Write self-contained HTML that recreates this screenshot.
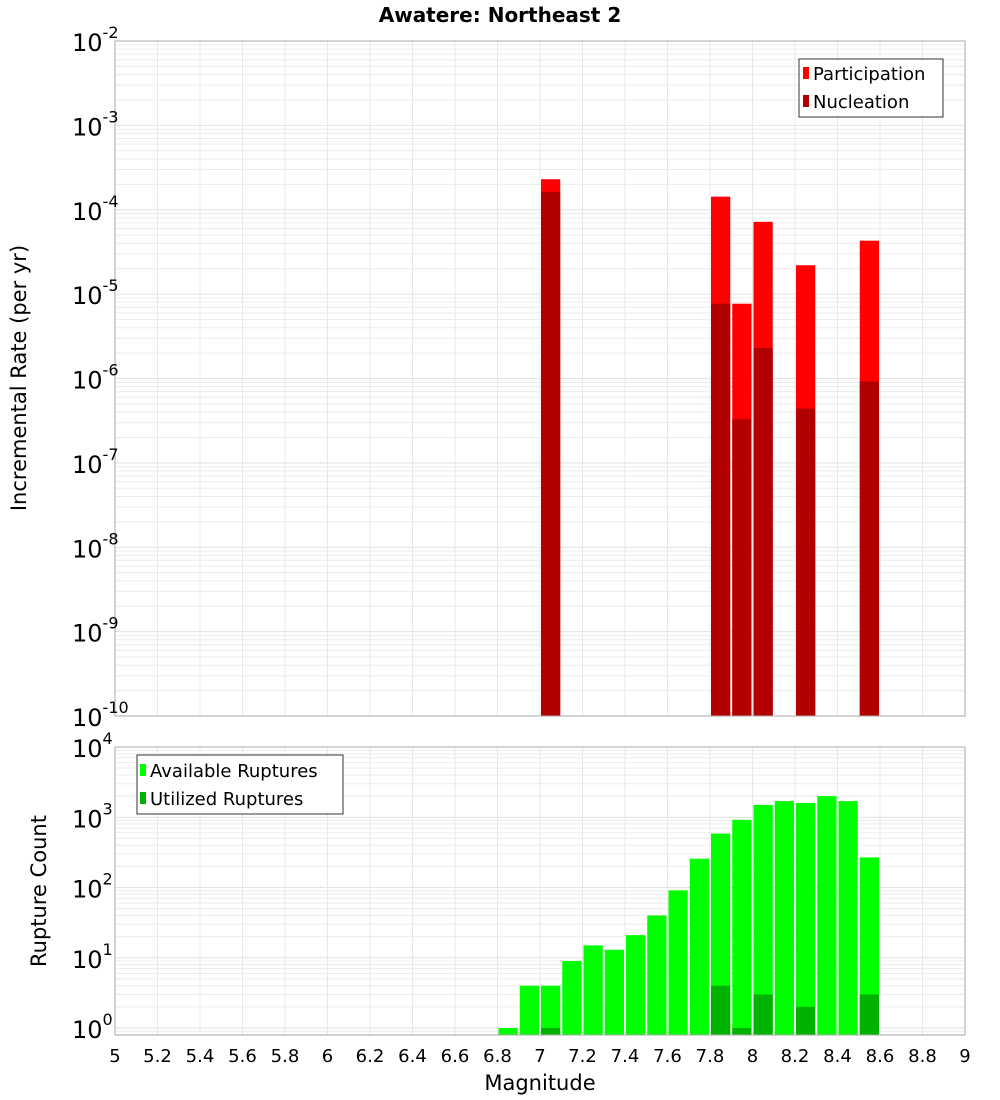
<!DOCTYPE html>
<html><head><meta charset="utf-8"><style>
body{margin:0;background:#fff;}
svg{display:block;font-family:"DejaVu Sans","Liberation Sans",sans-serif;}
</style></head><body>
<svg id="c" width="1000" height="1100"></svg>
<script>
const binCenters=[7.05,7.85,7.95,8.05,8.25,8.55];
const participation=[2.3e-4,1.43e-4,7.7e-6,7.2e-5,2.2e-5,4.3e-5];
const nucleation=[1.63e-4,7.7e-6,3.3e-7,2.3e-6,4.4e-7,9.2e-7];
const countCenters=[6.85,6.95,7.05,7.15,7.25,7.35,7.45,7.55,7.65,7.75,7.85,7.95,8.05,8.15,8.25,8.35,8.45,8.55];
const available=[1,4,4,9,15,13,21,40,91,257,585,920,1500,1700,1600,2000,1700,268];
const utilCenters=[7.05,7.85,7.95,8.05,8.25,8.55];
const utilized=[1,4,1,3,2,3];
const xTicks=[5,5.2,5.4,5.6,5.8,6,6.2,6.4,6.6,6.8,7,7.2,7.4,7.6,7.8,8,8.2,8.4,8.6,8.8,9];
const topExps=[-2,-3,-4,-5,-6,-7,-8,-9,-10];
const botExps=[4,3,2,1,0];

const NS="http://www.w3.org/2000/svg";
const svg=document.getElementById('c');
function mk(tag,attrs,parent){const e=document.createElementNS(NS,tag);for(const k in attrs)e.setAttribute(k,attrs[k]);(parent||svg).appendChild(e);return e;}
const X0=115,X1=965;
const xs=v=>X0+(v-5)/4*(X1-X0);
const T0=41,T1=716;
const yTop=v=>T0+(-2-Math.log10(v))/8*(T1-T0);
const B0=747,B1=1035,B4=747,Bz=1028;
const yBot=v=>Bz-Math.log10(v)*(Bz-B4)/4;

function grid(y0,y1,lo,hi,yf){
  for(let e=lo;e<hi;e++)for(let m=1;m<10;m++){const y=yf(m*Math.pow(10,e));if(y<y0-0.5||y>y1+0.5)continue;
    const l=mk('line',{x1:X0,x2:X1,y1:y,y2:y,stroke:m==1?'#e2e2e2':'#ececec','stroke-width':1});
    
    }
  xTicks.forEach(t=>{const x=xs(t);const l=mk('line',{x1:x,x2:x,y1:y0,y2:y1,stroke:'#e8e8e8','stroke-width':1});
    
    });
}
grid(T0,T1,-10,-1,yTop);
grid(B0,B1,-1,4,yBot);

const bw=xs(5.1)-xs(5)-2;
function bar(c,v,yf,base,color,name){const x=xs(c)-bw/2;const y=yf(v);const r=mk('rect',{x:x,y:y,width:bw,height:Math.max(0,base-y),fill:color});
  
  }
binCenters.forEach((c,i)=>bar(c,participation[i],yTop,T1,'#ff0000','participation-bar'));
binCenters.forEach((c,i)=>bar(c,nucleation[i],yTop,T1,'#b20000','nucleation-bar'));
countCenters.forEach((c,i)=>bar(c,available[i],yBot,B1,'#00ff00','available-bar'));
utilCenters.forEach((c,i)=>bar(c,utilized[i],yBot,B1,'#00b200','utilized-bar'));

mk('rect',{x:X0,y:T0,width:X1-X0,height:T1-T0,fill:'none',stroke:'#aaa',});
mk('rect',{x:X0,y:B0,width:X1-X0,height:B1-B0,fill:'none',stroke:'#aaa',});

function powLabel(e,y,name){const t=mk('text',{x:72,y:y+10,'font-size':24,fill:'#000'});t.textContent='10';
  const s=mk('tspan',{dy:-13,'font-size':16});s.textContent=String(e);t.appendChild(s);
  
  }
topExps.forEach(e=>powLabel(e,yTop(Math.pow(10,e)),'y-tick-label'));
botExps.forEach(e=>powLabel(e,yBot(Math.pow(10,e)),'y2-tick-label'));
xTicks.forEach(t=>{const tx=mk('text',{x:xs(t),y:1062,'font-size':18,'text-anchor':'middle',fill:'#000'});tx.textContent=String(t);
  
  });

function txt(s,attrs,name){const t=mk('text',attrs);t.textContent=s;return t;}
txt('Awatere: Northeast 2',{x:500,y:22,'font-size':20,'font-weight':'bold','text-anchor':'middle'},'chart-title');
txt('Magnitude',{x:540,y:1090,'font-size':21,'text-anchor':'middle'},'x-axis-title');
txt('Incremental Rate (per yr)',{x:0,y:0,'font-size':21,'text-anchor':'middle',transform:'translate(26,378) rotate(-90)'},'y-axis-title');
txt('Rupture Count',{x:0,y:0,'font-size':21,'text-anchor':'middle',transform:'translate(46,891) rotate(-90)'},'y2-axis-title');

const lg1=mk('g',{});
mk('rect',{x:799,y:59,width:144,height:58,fill:'#fff',stroke:'#333'},lg1);
mk('rect',{x:803,y:67,width:6,height:12,fill:'#ff0000'},lg1);
mk('rect',{x:803,y:95,width:6,height:12,fill:'#b20000'},lg1);
const a=mk('text',{x:813,y:80,'font-size':18},lg1);a.textContent='Participation';
const b=mk('text',{x:813,y:108,'font-size':18},lg1);b.textContent='Nucleation';
const lg2=mk('g',{});
mk('rect',{x:137,y:755,width:206,height:59,fill:'#fff',stroke:'#333'},lg2);
mk('rect',{x:140,y:764,width:6,height:12,fill:'#00ff00'},lg2);
mk('rect',{x:140,y:792,width:6,height:12,fill:'#00b200'},lg2);
const c1=mk('text',{x:150,y:777,'font-size':18},lg2);c1.textContent='Available Ruptures';
const c2=mk('text',{x:150,y:805,'font-size':18},lg2);c2.textContent='Utilized Ruptures';
</script>
</body></html>
